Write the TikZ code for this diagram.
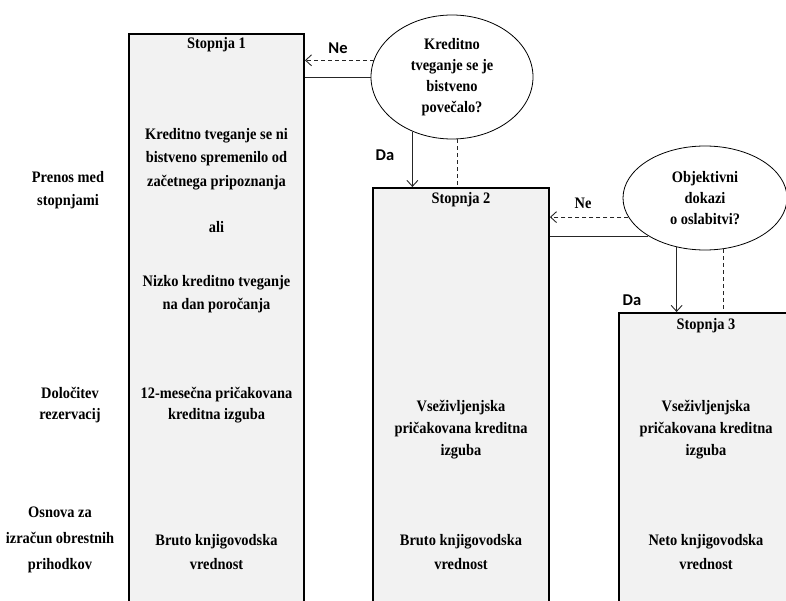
\documentclass[tikz,border=0pt]{standalone}
\usepackage{fontspec}
\setmainfont{Liberation Serif}[FakeStretch=0.9]
\newfontfamily\lblfont{Carlito}
\usetikzlibrary{shapes.geometric,arrows.meta}
\definecolor{boxgray}{HTML}{F2F2F2}
\definecolor{lnc}{HTML}{262626}
\tikzset{
  stagebox/.style={draw=black, line width=1.8pt, fill=boxgray, minimum width=175pt, minimum height=600pt, anchor=north, inner sep=0pt},
  txt/.style={font=\bfseries\fontsize{16}{23.5}\selectfont, align=center, inner sep=0pt},
  ell/.style={ellipse, draw=black, line width=0.8pt, fill=white, inner sep=0pt, font=\bfseries\fontsize{16}{21}\selectfont, align=center},
  conn/.style={line width=0.9pt, draw=lnc},
  dconn/.style={conn, dash pattern=on 4pt off 3pt},
  arr/.style={-{Straight Barb[length=6pt,width=11pt]}},
  ynsans/.style={font=\lblfont\bfseries\fontsize{16.5}{16.5}\selectfont, inner sep=0pt},
  ynserif/.style={font=\bfseries\fontsize{16}{16}\selectfont, inner sep=0pt}
}
\begin{document}
\begin{tikzpicture}[x=1pt,y=-1pt]
\useasboundingbox (0,0) rectangle (786,601);
\begin{scope}
\clip (0,0) rectangle (786,601);
% stage boxes
\node[stagebox] (s1) at (216.5,33) {};
\node[stagebox, minimum width=176pt] (s2) at (461,187) {};
\node[stagebox] (s3) at (706.5,312) {};
% ellipses
\node[ell, minimum width=162pt, minimum height=124pt] (e1) at (452,77) {Kreditno\\tveganje se je\\bistveno\\povečalo?};
\node[ell, minimum width=164pt, minimum height=104pt] (e2) at (705,198) {Objektivni\\dokazi\\o oslabitvi?};
\end{scope}
% connectors from e1
\draw[conn] (e1.west) -- (e1.west -| s1.east);
\draw[dconn, arr] (e1.168) -- (e1.168 -| s1.east);
\draw[conn, arr] (e1.234) -- (e1.234 |- s2.north);
\draw[dconn] (e1.275) -- (e1.275 |- s2.north);
% connectors from e2
\draw[conn] (e2.214) -- (e2.214 -| s2.east);
\draw[dconn, arr] (e2.194) -- (e2.194 -| s2.east);
\draw[conn, arr] (e2.240) -- (e2.240 |- s3.north);
\draw[dconn] (e2.290) -- (e2.290 |- s3.north);
% yes/no labels
\node[ynsans] (ne1) at (338,48) {Ne};
\node[ynsans] (da1) at (385,155) {Da};
\node[ynserif] (ne2) at (583,203) {Ne};
\node[ynsans] (da2) at (632,300) {Da};
% row labels
\node[txt] (r1) at (68,190) {Prenos med\\stopnjami};
\node[txt, font=\bfseries\fontsize{16}{21}\selectfont] (r2) at (70,405) {Določitev\\rezervacij};
\node[txt, font=\bfseries\fontsize{16}{26}\selectfont] (r3) at (60,539.5) {Osnova za\\izračun obrestnih\\prihodkov};
% stage 1 texts
\node[txt] (t1h) at (216.5,45) {Stopnja 1};
\node[txt] (t1a) at (216.5,159) {Kreditno tveganje se ni\\bistveno spremenilo od\\začetnega pripoznanja};
\node[txt] (t1b) at (216.5,227) {ali};
\node[txt] (t1c) at (216.5,294) {Nizko kreditno tveganje\\na dan poročanja};
\node[txt, font=\bfseries\fontsize{16}{21}\selectfont] (t1d) at (216.5,405) {12-mesečna pričakovana\\kreditna izguba};
\node[txt] (t1e) at (216.5,552) {Bruto knjigovodska\\vrednost};
% stage 2 texts
\node[txt] (t2h) at (461,200) {Stopnja 2};
\node[txt, font=\bfseries\fontsize{16}{22}\selectfont] (t2d) at (461,430) {Vseživljenjska\\pričakovana kreditna\\izguba};
\node[txt] (t2e) at (461,552) {Bruto knjigovodska\\vrednost};
% stage 3 texts
\node[txt] (t3h) at (706,326) {Stopnja 3};
\node[txt, font=\bfseries\fontsize{16}{22}\selectfont] (t3d) at (706,430) {Vseživljenjska\\pričakovana kreditna\\izguba};
\node[txt] (t3e) at (706,552) {Neto knjigovodska\\vrednost};
\end{tikzpicture}
\end{document}
